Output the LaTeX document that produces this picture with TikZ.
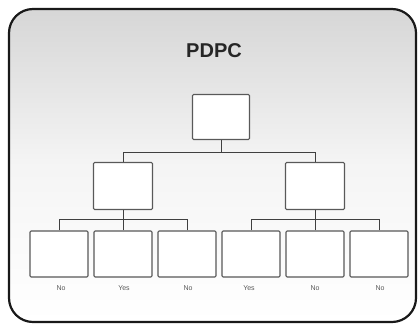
\documentclass[tikz,border=0pt]{standalone}
\usepackage{fontspec}
\setmainfont{Liberation Sans}
\begin{document}
\begin{tikzpicture}[x=1pt,y=-1pt,
  box/.style={draw=black!65,line width=1.1pt,fill=white,rounded corners=1.2pt,
    minimum width=58pt,minimum height=46pt,inner sep=0pt},
  link/.style={draw=black!75,line width=0.9pt},
  answer/.style={font=\fontsize{7}{8}\selectfont,text=black!65,inner sep=0pt}]
\useasboundingbox (0,0) rectangle (419,324);
% framed panel with a soft grey fade
\shade[rounded corners=24pt,top color=black!16,bottom color=white,middle color=black!4]
  (9,9) rectangle (416,322);
\draw[line width=2.2pt,black!90,rounded corners=24pt] (9,9) rectangle (416,322);
\node[font=\bfseries\fontsize{20}{24}\selectfont,text=black!85] (title) at (214,51) {PDPC};
% tree of boxes
\node[box,minimum width=57pt,minimum height=45pt] (top) at (221,117) {};
\node[box,minimum width=59pt,minimum height=47pt] (ml) at (123,186) {};
\node[box,minimum width=59pt,minimum height=47pt] (mr) at (315,186) {};
\node[box] (c1) at (59,254) {};
\node[box] (c2) at (123,254) {};
\node[box] (c3) at (187,254) {};
\node[box] (c4) at (251,254) {};
\node[box] (c5) at (315,254) {};
\node[box] (c6) at (379,254) {};
\coordinate (b0) at (221,152);
\coordinate (b1) at (123,219);
\coordinate (b2) at (315,219);
\draw[link] (top.south) -- (b0);
\draw[link] (ml.north) |- (b0);
\draw[link] (mr.north) |- (b0);
\draw[link] (ml.south) -- (b1);
\draw[link] (c1.north) |- (b1);
\draw[link] (c2.north) -- (b1);
\draw[link] (c3.north) |- (b1);
\draw[link] (mr.south) -- (b2);
\draw[link] (c4.north) |- (b2);
\draw[link] (c5.north) -- (b2);
\draw[link] (c6.north) |- (b2);
% answers under the leaves
\node[answer] (a1) at (61,288) {No};
\node[answer] (a2) at (124,288) {Yes};
\node[answer] (a3) at (188,288) {No};
\node[answer] (a4) at (249,288) {Yes};
\node[answer] (a5) at (315,288) {No};
\node[answer] (a6) at (380,288) {No};
\end{tikzpicture}
\end{document}
